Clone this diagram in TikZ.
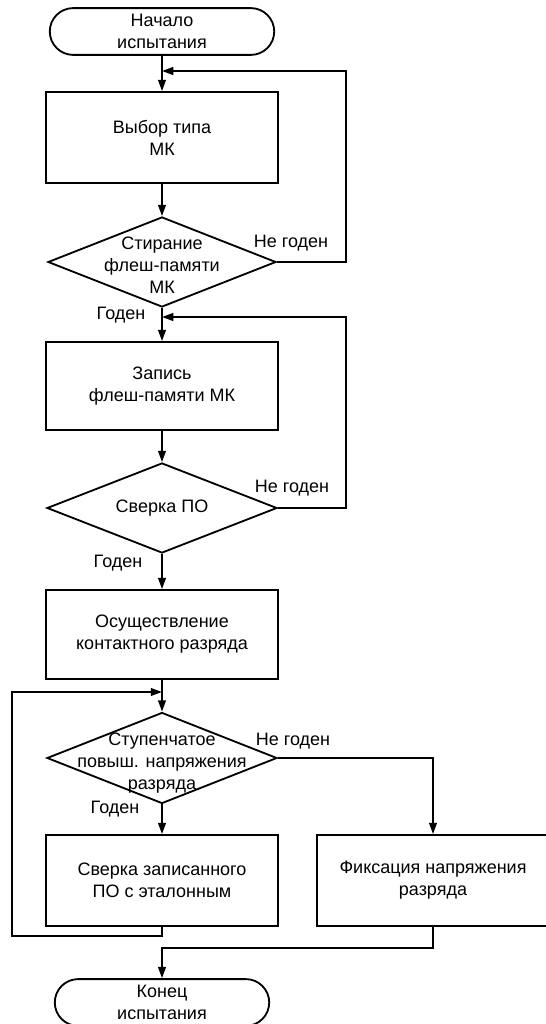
\documentclass[tikz,border=0pt]{standalone}
\usepackage{fontspec}
\setmainfont{Liberation Sans}
\usetikzlibrary{positioning,arrows.meta,shapes.geometric,shapes.misc}

\begin{document}
\begin{tikzpicture}[
  x=0.025cm, y=-0.025cm, line width=1.3pt,
  font=\fontsize{12.8}{15.6}\selectfont, >={Triangle[length=8pt,width=5.5pt]},
  term/.style={draw, rounded rectangle, align=center, minimum width=5.75cm, minimum height=1.17cm, inner sep=2pt},
  box/.style={draw, align=center, minimum width=5.8cm, minimum height=2.25cm},
  dec/.style={draw, diamond, minimum width=5.7cm, minimum height=2.25cm, inner sep=0pt},
  txt/.style={align=center, inner sep=0pt},
  lbl/.style={inner sep=1pt},
  arr/.style={->},
]
\useasboundingbox (0,0) rectangle (545,1024);

% блоки по главной оси x = 162 (единица = 1 пиксель)
\node[term] (start) at (162,31.5) {Начало\\испытания};
\node[box, minimum height=2.275cm] (sel) at (162,137.5) {Выбор типа\\МК};
\node[dec] (era) at (162,262) {};
\node[txt] (eraT) at (162,265) {Стирание\\флеш-памяти\\МК};
\node[box, minimum height=2.2cm] (wr) at (162,386) {Запись\\флеш-памяти МК};
\node[dec, minimum width=5.75cm] (chk) at (162,508) {};
\node[txt] (chkT) at (chk) {Сверка ПО};
\node[box, minimum height=2.225cm] (dis) at (162,634.5) {Осуществление\\контактного разряда};
\node[dec, minimum width=5.75cm, minimum height=2.275cm] (stp) at (162,758) {};
\node[txt] (stpT) at (162,763) {Ступенчатое\\повыш. напряжения\\разряда};
\node[box, minimum height=2.275cm] (cmp) at (162,880.5) {Сверка записанного\\ПО с эталонным};
\node[box, minimum height=2.275cm] (fix) at (433,880.5) {Фиксация напряжения\\разряда};
\node[term, minimum width=5.5cm] (end) at (162,1002.5) {Конец\\испытания};

% точки слияния и повороты петель
\coordinate (m1) at (162,71);
\coordinate (r1) at (346,71);
\coordinate (m2) at (162,317);
\coordinate (r2) at (346,317);
\coordinate (m3) at (162,692);
\coordinate (l3) at (12,692);
\coordinate (b4) at (12,936);
\coordinate (j5) at (162,948);

% основной поток
\draw[arr] (start) -- (sel);
\draw[arr] (sel) -- (era);
\draw[arr] (era) -- (wr);
\draw[arr] (wr) -- (chk);
\draw[arr] (chk) -- (dis);
\draw[arr] (dis) -- (stp);
\draw[arr] (stp) -- (cmp);

% возвраты «Не годен»
\draw[arr] (era.east) -| (r1) -- (m1);
\draw[arr] (chk.east) -| (r2) -- (m2);
\draw[arr] (cmp.south) |- (b4) -- (l3) -- (m3);

% ветка фиксации и конец
\draw[arr] (stp.east) -| (fix.north);
\draw[arr] (fix.south) |- (j5) -- (end.north);

% подписи
\node[lbl] (nok1) at (291,243) {Не годен};
\node[lbl] (ok1) at (121,315) {Годен};
\node[lbl] (nok2) at (292,488) {Не годен};
\node[lbl] (ok2) at (118,563) {Годен};
\node[lbl] (nok3) at (293,741) {Не годен};
\node[lbl] (ok3) at (115,809) {Годен};
\end{tikzpicture}
\end{document}
